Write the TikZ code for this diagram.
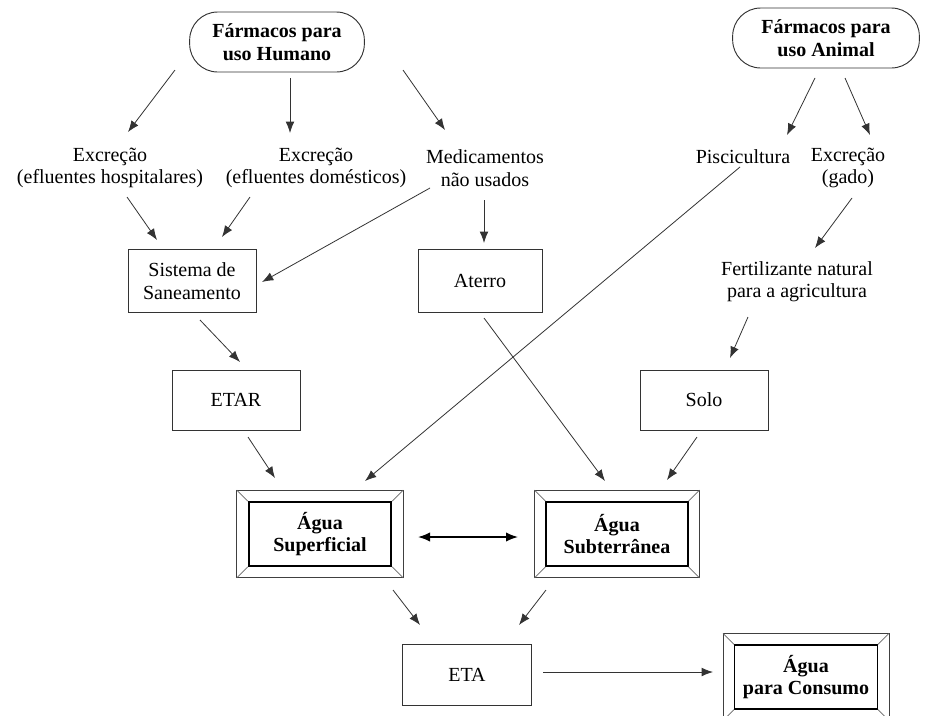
\documentclass[tikz,border=0pt]{standalone}
\usepackage{fontspec}
\setmainfont{Liberation Serif}
\usetikzlibrary{arrows.meta}
\newcommand\bevelframe[1]{%
  \draw[line width=0.6pt, draw=black!75] ([shift={(-11,-11)}]#1.north west) rectangle ([shift={(11,11)}]#1.south east);
  \draw[line width=0.5pt, draw=black!60] ([shift={(-11,-11)}]#1.north west) -- (#1.north west)
    ([shift={(11,-11)}]#1.north east) -- (#1.north east)
    ([shift={(-11,11)}]#1.south west) -- (#1.south west)
    ([shift={(11,11)}]#1.south east) -- (#1.south east);}
\begin{document}
\begin{tikzpicture}[x=0.75pt,y=-0.75pt,
  every node/.style={font=\fontsize{15}{16.8}\selectfont, align=center, inner sep=0pt},
  oval/.style={draw=black!80, line width=0.7pt, rounded corners=21pt, minimum height=45pt, font=\fontsize{15}{16.8}\selectfont\bfseries},
  boxn/.style={draw=black!80, line width=0.6pt},
  inner/.style={draw=black, line width=1.3pt, minimum width=107pt, minimum height=48pt, font=\fontsize{15}{16.8}\selectfont\bfseries},
  arr/.style={draw=black!80, line width=0.6pt, -{Latex[length=8.5pt,width=6.5pt]}},
  dbl/.style={draw=black, line width=1.2pt, {Latex[length=9pt,width=7pt]}-{Latex[length=9pt,width=7pt]}}]
\clip (0,0) rectangle (928,715);
\fill[white] (0,0) rectangle (928,715);
% top ovals
\node[oval, minimum width=131pt] (hum) at (277,42) {Fármacos para\\uso Humano};
\node[oval, minimum width=140pt] (ani) at (826,38) {Fármacos para\\uso Animal};
% labels
\node (exh) at (110,168) {Excreção\\(efluentes hospitalares)};
\node (exd) at (316,168) {Excreção\\(efluentes domésticos)};
\node (med) at (485,168) {Medicamentos\\não usados};
\node (pis) at (743,157) {Piscicultura};
\node (exg) at (848,168) {Excreção\\(gado)};
\node (fer) at (797,282) {Fertilizante natural\\para a agricultura};
% boxes
\node[boxn, minimum width=96pt, minimum height=47pt] (san) at (192,281) {Sistema de\\Saneamento};
\node[boxn, minimum width=93pt, minimum height=47pt] (ate) at (480,281) {Aterro};
\node[boxn, minimum width=96pt, minimum height=45pt] (etar) at (236,400) {ETAR};
\node[boxn, minimum width=96pt, minimum height=45pt] (solo) at (704,400) {Solo};
\node[boxn, minimum width=97pt, minimum height=46pt] (eta) at (467,675) {ETA};
% bevel boxes
\node[inner] (sup) at (320,534) {Água\\Superficial};
\node[inner, minimum width=106pt] (sub) at (617,534) {Água\\Subterrânea};
\node[inner, minimum width=107pt, line width=0.9pt] (con) at (806,677) {Água\\para Consumo};
\bevelframe{sup}
\bevelframe{sub}
\bevelframe{con}
% arrows
\draw[arr] ([shift={(-102,28)}]hum.center) -- ([shift={(18,-36)}]exh.center);
\draw[arr] ([shift={(13,36)}]hum.center) -- ([shift={(-26,-35)}]exd.center);
\draw[arr] ([shift={(126,28)}]hum.center) -- ([shift={(-40,-38)}]med.center);
\draw[arr] ([shift={(-11,40)}]ani.center) -- ([shift={(44,-22)}]pis.center);
\draw[arr] ([shift={(19,40)}]ani.center) -- ([shift={(22,-33)}]exg.center);
\draw[arr] ([shift={(17,29)}]exh.center) -- ([shift={(-35,-41)}]san.center);
\draw[arr] ([shift={(-66,29)}]exd.center) -- ([shift={(30,-44)}]san.center);
\draw[arr] ([shift={(-55,20)}]med.center) -- ([shift={(70,1)}]san.center);
\draw[arr] ([shift={(-1,32)}]med.center) -- ([shift={(4,-38)}]ate.center);
\draw[arr] ([shift={(4,30)}]exg.center) -- ([shift={(18,-34)}]fer.center);
\draw[arr] ([shift={(8,39)}]san.center) -- ([shift={(4,-38)}]etar.center);
\draw[arr] ([shift={(-49,35)}]fer.center) -- ([shift={(26,-42)}]solo.center);
\draw[arr] ([shift={(4,37)}]ate.center) -- ([shift={(-12,-53)}]sub.center);
\draw[arr] ([shift={(-3,10)}]pis.center) -- ([shift={(45,-53)}]sup.center);
\draw[arr] ([shift={(12,37)}]etar.center) -- ([shift={(-45,-56)}]sup.center);
\draw[arr] ([shift={(-7,37)}]solo.center) -- ([shift={(50,-54)}]sub.center);
\draw[dbl] ([shift={(98,3)}]sup.center) -- ([shift={(-99,3)}]sub.center);
\draw[arr] ([shift={(73,56)}]sup.center) -- ([shift={(-47,-50)}]eta.center);
\draw[arr] ([shift={(-71,56)}]sub.center) -- ([shift={(52,-50)}]eta.center);
\draw[arr] ([shift={(76,-3)}]eta.center) -- ([shift={(-93,-5)}]con.center);
\end{tikzpicture}
\end{document}
